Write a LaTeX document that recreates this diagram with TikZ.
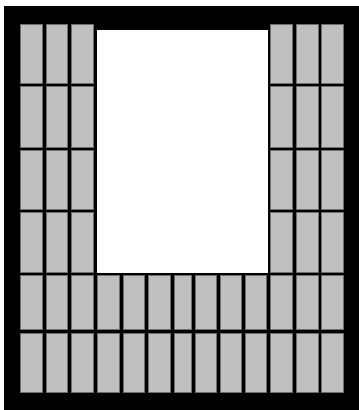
\documentclass[tikz,border=0pt]{standalone}
\begin{document}
\begin{tikzpicture}[x=1pt,y=-1pt,
  tile/.style={fill=tilegray,draw=tileedge,line width=0.9pt},
  frame/.style={fill=black},
  hole/.style={fill=white}]
\definecolor{tilegray}{RGB}{192,192,192}
\definecolor{tileedge}{RGB}{110,110,110}
\useasboundingbox (0,0) rectangle (359,410);
\fill[white] (0,0) rectangle (359,410);
\fill[frame] (4,6) rectangle (359,410);
% side columns, all rows
\foreach \xa/\xb in {20/43, 45.7/68.3, 71/94.3, 269.7/293.3, 295.7/319, 321.3/344.3}{
  \foreach \ya/\yb in {24/84, 86/147.5, 149.5/210, 212/272.7, 275/330.3, 332.7/393.3}{
    \draw[tile] (\xa+0.45,\ya+0.45) rectangle (\xb-0.45,\yb-0.45);
  }
}
% middle columns, bottom two rows
\foreach \xa/\xb in {97.3/120, 123.3/145.3, 148.3/171, 174.3/191.5, 194.5/217, 220/242, 244.7/267.3}{
  \foreach \ya/\yb in {275/330.3, 332.7/393.3}{
    \draw[tile] (\xa+0.45,\ya+0.45) rectangle (\xb-0.45,\yb-0.45);
  }
}
\fill[hole] (97,30) rectangle (267.5,272.5);
\end{tikzpicture}
\end{document}
